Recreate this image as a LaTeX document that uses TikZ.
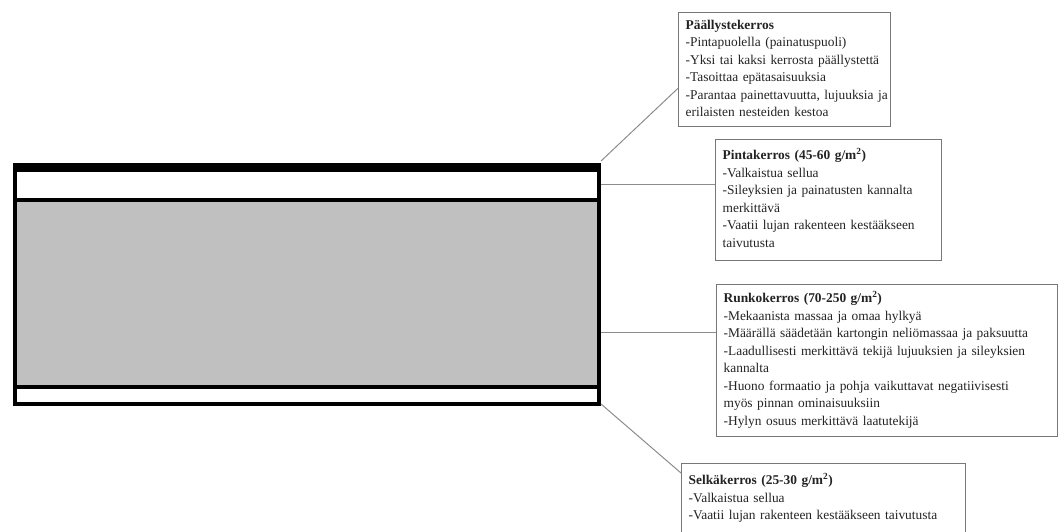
\documentclass[tikz,border=0pt]{standalone}
\usepackage{fontspec}
\setmainfont{Liberation Serif}
\usetikzlibrary{positioning,calc}
\definecolor{layergray}{RGB}{192,192,192}
\definecolor{framegray}{RGB}{120,120,120}
\definecolor{leadgray}{RGB}{140,140,140}
\definecolor{darktext}{RGB}{35,35,35}
\newcommand{\notelines}[1]{\begin{tabular}{@{}l@{}}#1\end{tabular}}

\begin{document}
\begin{tikzpicture}[
    x=1pt, y=-1pt,
    font=\fontsize{13.4}{17.5}\selectfont,
    notebox/.style={draw=framegray, line width=1.3pt, anchor=north west, align=left, inner xsep=7pt, inner ysep=3pt, text=darktext, text width=#1},
    leader/.style={draw=leadgray, line width=1pt},
]
\useasboundingbox (0,0) rectangle (1062,532);

% === Board cross-section ===
\fill[black] (13,163) rectangle (601,406);
\fill[white] (17,172) rectangle (597,198);
\fill[layergray] (17,202) rectangle (597,385);
\fill[white] (17,389) rectangle (597,402);

\coordinate (paalEnd) at (601,161);
\coordinate (pintaEnd) at (601,184);
\coordinate (runkoEnd) at (601,332);
\coordinate (selkaEnd) at (601,404);

% === Layer descriptions ===
\node[notebox=198pt, minimum height=114pt] (paal) at (678,12) {\notelines{\textbf{Päällystekerros}\\
-Pintapuolella (painatuspuoli)\\
-Yksi tai kaksi kerrosta päällystettä\\
-Tasoittaa epätasaisuuksia\\
-Parantaa painettavuutta, lujuuksia ja\\
erilaisten nesteiden kestoa}};

\node[notebox=212pt, minimum height=121pt] (pinta) at (715,139) {\notelines{\textbf{Pintakerros (45-60 g/m\textsuperscript{2})}\\
-Valkaistua sellua\\
-Sileyksien ja painatusten kannalta\\
merkittävä\\
-Vaatii lujan rakenteen kestääkseen\\
taivutusta}};

\node[notebox=327pt, minimum height=152pt] (runko) at (716,284) {\notelines{\textbf{Runkokerros (70-250 g/m\textsuperscript{2})}\\
-Mekaanista massaa ja omaa hylkyä\\
-Määrällä säädetään kartongin neliömassaa ja paksuutta\\
-Laadullisesti merkittävä tekijä lujuuksien ja sileyksien\\
kannalta\\
-Huono formaatio ja pohja vaikuttavat negatiivisesti\\
myös pinnan ominaisuuksiin\\
-Hylyn osuus merkittävä laatutekijä}};

\node[notebox=270pt, minimum height=70pt] (selka) at (681,463) {\notelines{\textbf{Selkäkerros (25-30 g/m\textsuperscript{2})}\\
-Valkaistua sellua\\
-Vaatii lujan rakenteen kestääkseen taivutusta}};

% === Leader lines ===
\draw[leader] (paalEnd) -- ([yshift=39pt]paal.south west);
\draw[leader] (pintaEnd) -- (pintaEnd -| pinta.west);
\draw[leader] (runkoEnd) -- (runkoEnd -| runko.west);
\draw[leader] (selkaEnd) -- ([yshift=-10pt]selka.north west);

\end{tikzpicture}
\end{document}
